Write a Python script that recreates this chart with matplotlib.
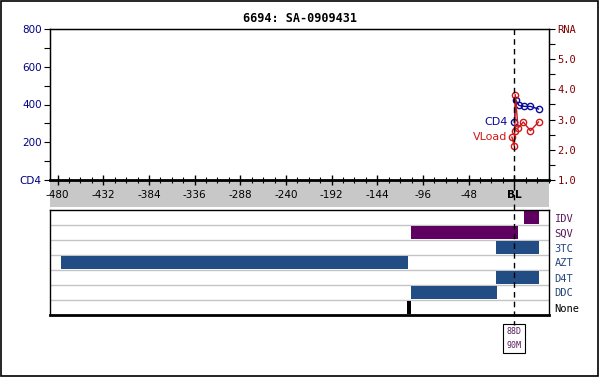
import matplotlib
matplotlib.use("Agg")
import matplotlib.pyplot as plt
from matplotlib.patches import Rectangle
from matplotlib.lines import Line2D

TITLE = "6694: SA-0909431"

# CD4 counts (left axis) and viral load log10 RNA (right axis), days from baseline
cd4_days = [0, 1.5, 5, 10.5, 17, 25.5]
cd4_vals = [305, 423, 395, 390, 390, 376]
vl_days = [-2.5, 0, 0.5, 1, 4, 9.5, 17, 25.5]
vl_vals = [2.42, 2.13, 2.61, 3.83, 2.72, 2.92, 2.63, 2.92]

x_ticks = [-480, -432, -384, -336, -288, -240, -192, -144, -96, -48, 0]
x_labels = ["-480", "-432", "-384", "-336", "-288", "-240", "-192", "-144", "-96", "-48", "BL"]
cd4_ticks = [0, 200, 400, 600, 800]
cd4_labels = ["CD4", "200", "400", "600", "800"]
rna_ticks = [1, 2, 3, 4, 5, 6]
rna_labels = ["1.0", "2.0", "3.0", "4.0", "5.0", "RNA"]

# treatment rows, top to bottom
drugs = ["IDV", "SQV", "3TC", "AZT", "D4T", "DDC", "None"]
drug_start = [10, -108.5, -19, -476, -19, -108.5, -113]
drug_end = [26, 3.5, 26, -111.5, 26, -18, -108.5]
drug_kind = ["pi", "pi", "nrti", "nrti", "nrti", "nrti", "none"]

mutations = "88D\n90M"

KIND_COLOR = {"pi": "#5f0060", "nrti": "#214d84", "none": "#000000"}
LABEL_COLOR = {"pi": "#5a1a5e", "nrti": "#26467a", "none": "#000000"}
CD4_COLOR = "#0a0a9a"
VL_COLOR = "#d01818"
XLIM = (-488, 36.5)

fig = plt.figure(figsize=(6.0, 3.77), dpi=100)
H = 377.0
W = 600.0


def fy(py):
    return 1 - py / H


# outer frame
fig.patches.append(Rectangle((0.001, 0.002), 0.995, 0.996, transform=fig.transFigure,
                             fill=False, edgecolor="black", linewidth=1.2, zorder=-2))
# gray band under the time axis
fig.patches.append(Rectangle((50 / W, fy(207)), 499 / W, 27 / H, transform=fig.transFigure,
                             facecolor="#c8c8c8", edgecolor="none", zorder=-1))

ax = fig.add_axes([50 / W, fy(180), 499 / W, 151 / H])
ax.set_xlim(*XLIM)
ax.set_ylim(0, 800)
ax.plot(cd4_days, cd4_vals, color=CD4_COLOR, linewidth=1, marker="o", markersize=4.5,
        markerfacecolor="none", markeredgewidth=1, zorder=3)
ax.annotate("CD4", (cd4_days[0], cd4_vals[0]), xytext=(-5, 0), textcoords="offset points",
            ha="right", va="center", color=CD4_COLOR, fontsize=8)

ax.set_xticks(x_ticks)
ax.set_xticklabels(x_labels, fontsize=7.5)
ax.set_xticks(range(-480, 37, 12), minor=True)
ax.tick_params(axis="x", which="major", direction="inout", length=7, width=1, pad=4)
ax.tick_params(axis="x", which="minor", direction="inout", length=4, width=0.8)
ax.get_xticklabels()[-1].set_fontweight("bold")

ax.set_yticks(cd4_ticks)
ax.set_yticklabels(cd4_labels, fontsize=7.5, color="#000080")
ax.set_yticks(range(0, 801, 100), minor=True)
ax.tick_params(axis="y", which="both", direction="out", length=4, width=0.8, pad=2)
for side in ("left", "right", "top"):
    ax.spines[side].set_linewidth(1)
ax.spines["bottom"].set_linewidth(2)

ax2 = ax.twinx()
ax2.set_ylim(1, 6)
ax2.plot(vl_days, vl_vals, color=VL_COLOR, linewidth=1, marker="o", markersize=4.5,
         markerfacecolor="none", markeredgewidth=1, zorder=3)
ax2.annotate("VLoad", (vl_days[0], vl_vals[0]), xytext=(-3, 0), textcoords="offset points",
             ha="right", va="center", color=VL_COLOR, fontsize=8)
ax2.set_yticks(rna_ticks)
ax2.set_yticklabels(rna_labels, fontsize=7.5, color="#800000", family="DejaVu Sans Mono")
ax2.set_yticks([1 + 0.5 * i for i in range(11)], minor=True)
ax2.tick_params(axis="y", which="both", direction="out", length=4, width=0.8, pad=2)

fig.text(0.5, fy(19), TITLE, ha="center", va="center", fontsize=8.5,
         fontweight="bold", family="DejaVu Sans Mono")

# treatment panel
bx = fig.add_axes([50 / W, fy(315), 499 / W, 105 / H])
bx.set_xlim(*XLIM)
n = len(drugs)
bx.set_ylim(-0.5, n - 0.5)
rows = [n - 1 - i for i in range(n)]
for r, s, e, k in zip(rows, drug_start, drug_end, drug_kind):
    bx.barh(r, e - s, left=s, height=0.93, color=KIND_COLOR[k], zorder=2)
for i in range(n - 1):
    bx.axhline(i + 0.5, color="#c4c4c4", linewidth=1, zorder=1)
bx.set_xticks([])
bx.yaxis.tick_right()
bx.set_yticks(rows)
bx.set_yticklabels(drugs, fontsize=7.5, family="DejaVu Sans Mono")
for lab, k in zip(bx.get_yticklabels(), drug_kind):
    lab.set_color(LABEL_COLOR[k])
bx.tick_params(axis="y", length=0, pad=4)
for side in ("left", "right", "top"):
    bx.spines[side].set_linewidth(1)
bx.spines["bottom"].set_linewidth(2)

# baseline dashed marker running through both panels
fig.canvas.draw()
x0 = fig.transFigure.inverted().transform(ax.transData.transform((0, 0)))[0]
fig.add_artist(Line2D([x0, x0], [fy(29), fy(325)], transform=fig.transFigure,
                      color="black", linewidth=1, linestyle=(0, (4, 3)), zorder=10))
fig.text(x0, fy(338.5), mutations, ha="center", va="center", fontsize=6,
         family="DejaVu Sans Mono", color="#5a1a5e", linespacing=1.6,
         bbox=dict(boxstyle="square,pad=0.4", facecolor="white", edgecolor="black",
                   linewidth=0.8))

fig.savefig("out.png", dpi=100, facecolor="white")
